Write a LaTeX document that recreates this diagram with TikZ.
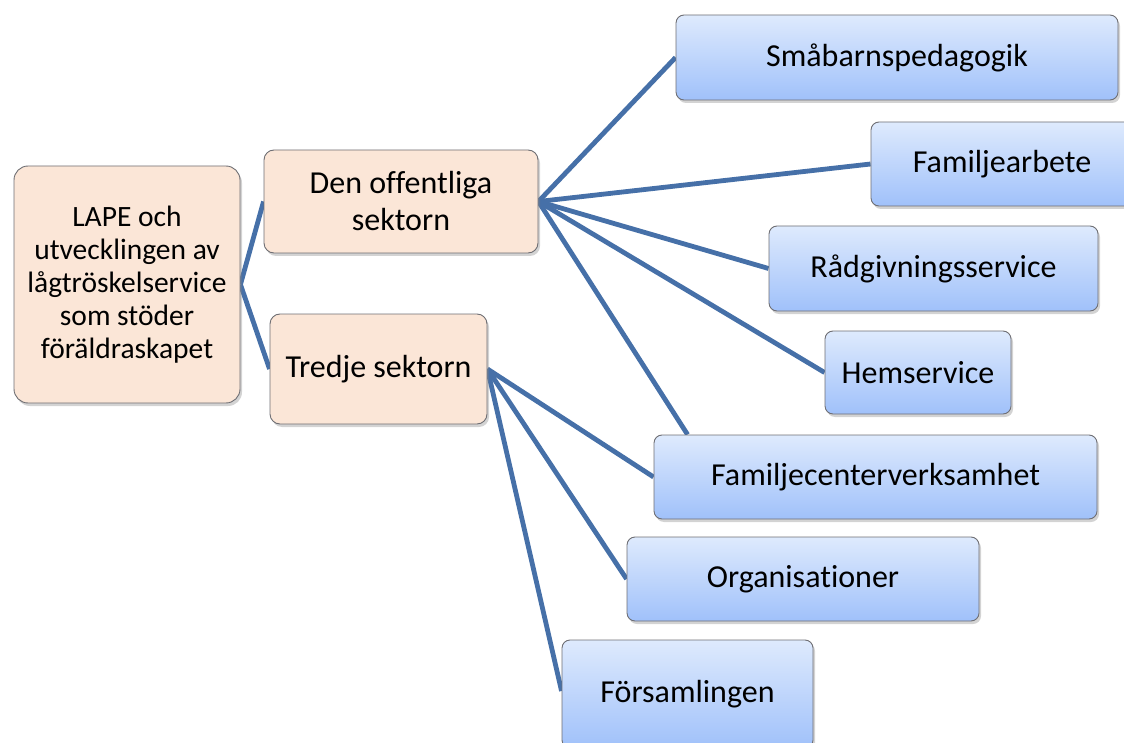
\documentclass[tikz,border=0pt]{standalone}
\usepackage{fontspec}
\setmainfont[Ligatures=NoCommon]{Carlito}
\usetikzlibrary{shadows,calc,backgrounds}
\definecolor{peachc}{RGB}{251,230,215}
\definecolor{bluetop}{RGB}{222,234,253}
\definecolor{bluebot}{RGB}{160,193,250}
\definecolor{edgec}{RGB}{110,110,115}
\definecolor{linec}{RGB}{70,112,168}
\tikzset{
  box/.style={draw=edgec, line width=0.9pt, inner sep=0pt, align=center,
    font=\fontsize{32}{37}\selectfont,
    drop shadow={opacity=0.35, shadow xshift=2pt, shadow yshift=-3pt}},
  peach/.style={box, fill=peachc, rounded corners=10pt},
  bluebox/.style={box, top color=bluetop, bottom color=bluebot, rounded corners=8pt},
  conn/.style={draw=linec, line width=4.8pt}
}
\begin{document}
\begin{tikzpicture}[x=1pt,y=-1pt]
\useasboundingbox (0,0) rectangle (1124,743);
% boxes
\node[peach, rounded corners=14pt, minimum width=226pt, minimum height=237pt, font=\fontsize{29.5}{33}\selectfont] (lape) at (127,284.5) {LAPE och\\utvecklingen av\\lågtröskelservice\\som stöder\\föräldraskapet};
\node[peach, minimum width=274pt, minimum height=103pt] (off) at (401,201.5) {Den offentliga\\sektorn};
\node[peach, minimum width=217pt, minimum height=110pt] (tre) at (378.5,369) {Tredje sektorn};
\node[bluebox, minimum width=442pt, minimum height=85pt] (sma) at (897,57.5) {Småbarnspedagogik};
\node[bluebox, minimum width=262pt, minimum height=84pt] (fam) at (1002,164) {Familjearbete};
\node[bluebox, minimum width=329pt, minimum height=85pt] (rad) at (933.5,268.5) {Rådgivningsservice};
\node[bluebox, minimum width=186pt, minimum height=83pt] (hem) at (918,372.5) {Hemservice};
\node[bluebox, minimum width=443pt, minimum height=84pt] (fc) at (875.5,477) {Familjecenterverksamhet};
\node[bluebox, minimum width=352pt, minimum height=84pt] (org) at (803,579) {Organisationer};
\node[bluebox, minimum width=251pt, minimum height=108pt] (fors) at (687.5,694) {Församlingen};
\coordinate (fcend) at ($(fc.north west)+(34,0)$);
% connectors beneath the boxes
\begin{scope}[on background layer]
\draw[conn] (lape.east) -- (off.west);
\draw[conn] (lape.east) -- (tre.west);
\draw[conn] (off.east) -- (sma.west);
\draw[conn] (off.east) -- (fam.west);
\draw[conn] (off.east) -- (rad.west);
\draw[conn] (off.east) -- (hem.west);
\draw[conn] (off.east) -- (fcend);
\draw[conn] (tre.east) -- (fc.west);
\draw[conn] (tre.east) -- (org.west);
\draw[conn] (tre.east) -- ($(fors.west)+(0,-3)$);
\end{scope}
\end{tikzpicture}
\end{document}
